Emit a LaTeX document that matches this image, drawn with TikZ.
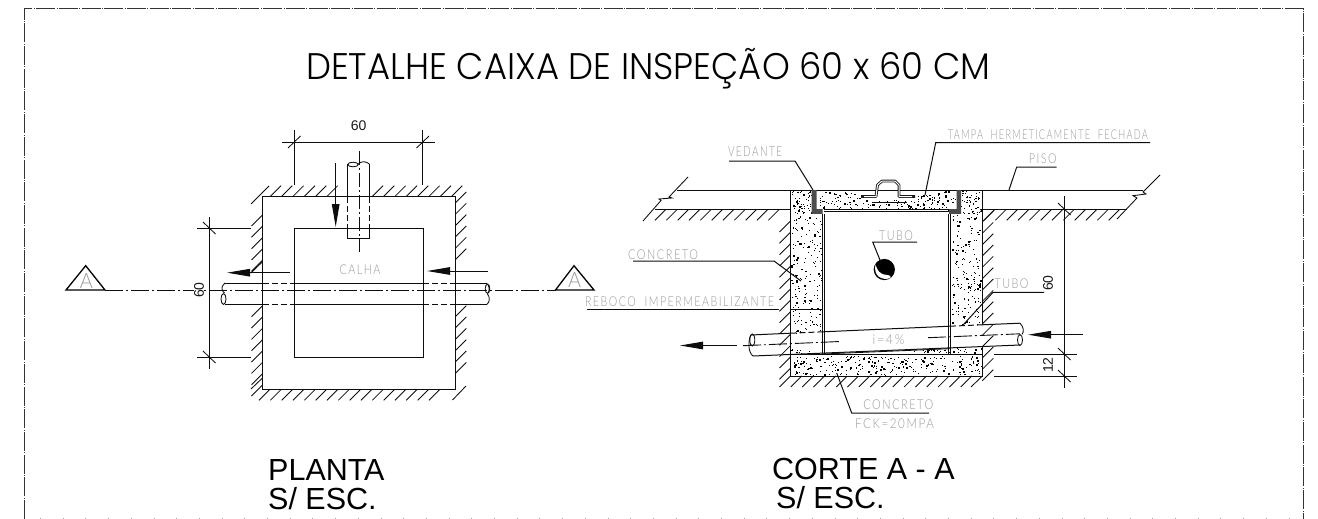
\documentclass[tikz,border=0pt]{standalone}
\usepackage{fontspec}
\usepackage{graphicx}
\usetikzlibrary{arrows.meta}
\setmainfont{Liberation Sans}
\newfontfamily\titlefont{Poppins Light}
\newfontfamily\lightfont[LetterSpace=14]{Lato Light}
\definecolor{lblgray}{gray}{0.6}
\tikzset{
  ln/.style={line width=1pt,black!95},
  thin ln/.style={line width=0.85pt,black!95},
  dsh/.style={ln,dash pattern=on 6pt off 3pt},
  center ln/.style={line width=0.9pt,black!95,dash pattern=on 18pt off 3pt on 2pt off 3pt},
  border ln/.style={line width=1pt,black!80,dash pattern=on 19pt off 1.5pt on 0.7pt off 1.5pt},
  arrowln/.style={ln,-{Triangle[length=23pt,width=7.5pt]}},
  dimtxt/.style={font=\fontsize{14}{14}\selectfont,black!90,inner sep=0pt},
  bigtxt/.style={font=\fontsize{30.5}{30.5}\selectfont,black,inner sep=0pt,anchor=base west},
  lbl/.style={inner sep=0pt,text=lblgray},
  secmark/.style={line width=1.3pt,black,line join=miter}
}
\newcommand{\hatchrow}[7]{\foreach \k in {1,...,#5}{\draw[thin ln] ({#1+(\k-1)*#3},{#2+(\k-1)*#4}) -- ++(#6,#7);}}
\newcommand{\concdots}[5]{\foreach \k in {1,...,#5}{\pgfmathsetmacro\dxx{#1+rnd*(#3-#1)}\pgfmathsetmacro\dyy{#2+rnd*(#4-#2)}\pgfmathsetmacro\dss{0.7+rnd*rnd*1.7}\fill[black] (\dxx,\dyy) rectangle ++(\dss,\dss);}}
\newcommand{\lb}[5]{\node[lbl] (#1) at (#2,#3) {\resizebox{#4pt}{9.7pt}{\lightfont #5}};}
\begin{document}
\begin{tikzpicture}[x=1pt,y=-1pt]
\useasboundingbox (0,0) rectangle (1318,519);
\clip (0,0) rectangle (1318,519);
\pgfmathsetseed{4242}
% border
\draw[border ln] (24,519) -- (24,9) -- (1303,9) -- (1303,519);
\draw[line width=1pt,black!35,dash pattern=on 0.8pt off 21.9pt] (40,518.4) -- (1303,518.4);
% title
\node[inner sep=0pt,anchor=base west] (title) at (306,79) {\resizebox{684pt}{\height}{\fontsize{37}{37}\selectfont\titlefont DETALHE CAIXA DE INSPEÇÃO 60 x 60 CM}};
\node[bigtxt] (t1) at (268,480) {PLANTA};
\node[bigtxt] (t2) at (268,509) {S/ ESC.};
\node[bigtxt] (t3) at (772,479) {CORTE A - A};
\node[bigtxt] (t4) at (776,508) {S/ ESC.};
%%% PLAN
\draw[ln] (262.5,196.7) rectangle (455.3,389.3);
\draw[ln] (294.5,228) rectangle (423.2,357.3);
% hatch
\hatchrow{270}{196.7}{11.33}{0}{6}{11}{-11}
\hatchrow{372}{196.7}{11.33}{0}{8}{11}{-11}
\draw[thin ln] (251,204) -- (269,186);
\hatchrow{262.5}{215}{0}{11.33}{5}{-11}{11}
\draw[thin ln] (262.5,261.7) -- (251,273);
\hatchrow{262.5}{305.7}{0}{11.33}{8}{-11}{11}
\hatchrow{455.3}{203}{0}{11.33}{6}{11}{-11}
\hatchrow{455.3}{316.7}{0}{11.33}{6}{11}{-11}
\draw[thin ln] (452.5,400) -- (466,386);
\hatchrow{270}{389.3}{11.33}{0}{16}{-11}{11}
\draw[thin ln] (262.5,378) -- (251,389);
% horizontal pipe
\draw[ln] (225,283) -- (262.5,283);
\draw[ln] (225,304.3) -- (262.5,304.3);
\draw[dsh] (262.5,283) -- (294.5,283);
\draw[dsh] (262.5,304.3) -- (294.5,304.3);
\draw[ln] (294.5,283) -- (423.2,283);
\draw[ln] (294.5,304.3) -- (423.2,304.3);
\draw[dsh] (423.2,283) -- (455.3,283);
\draw[dsh] (423.2,304.3) -- (455.3,304.3);
\draw[ln] (455.3,283) -- (486,283);
\draw[ln] (455.3,304.3) -- (487,304.3);
\draw[thin ln] (225,283) .. controls (220,287) and (222,291) .. (224.5,293);
\draw[thin ln] (223.5,299) ellipse (2.5 and 5.4);
\draw[thin ln] (486,283) .. controls (490,285) and (490,291) .. (487.5,294);
\draw[thin ln] (487.5,288.7) ellipse (2.3 and 4.6);
\draw[thin ln] (487.5,294) .. controls (490,297) and (490,302) .. (487,304.3);
% vertical pipe
\draw[ln] (347.7,164) -- (347.7,196.7);
\draw[ln] (369.3,164) -- (369.3,196.7);
\draw[dsh] (347.7,196.7) -- (347.7,228);
\draw[dsh] (369.3,196.7) -- (369.3,228);
\draw[ln] (347.7,228) -- (347.7,238) -- (369.3,238) -- (369.3,228);
\draw[thin ln] (353,164.5) ellipse (5.3 and 2.3);
\draw[thin ln] (358.3,164) .. controls (361,161) and (366,161) .. (369.3,164);
\draw[line width=0.9pt,black!95,dash pattern=on 14pt off 3pt on 2pt off 3pt] (359,151) -- (359,252);
% centre line and section marks
\draw[secmark] (85.7,265.7) -- (66,290) -- (105,290) -- cycle;
\draw[secmark] (574,265.7) -- (555.5,290) -- (594,290) -- cycle;
\node[inner sep=0pt,text=lblgray] (a1) at (86.3,281) {\resizebox{13pt}{15pt}{\lightfont A}};
\node[inner sep=0pt,text=lblgray] (a2) at (574.5,279.5) {\resizebox{13pt}{15pt}{\lightfont A}};
\draw[center ln] (105,290) -- (555.5,290);
\node[dimtxt,rotate=90,fill=white] (d60l) at (199,290) {60};
% arrows
\draw[arrowln] (290,272.7) -- (227,272.7);
\draw[arrowln] (488,271) -- (427,271);
\draw[arrowln] (335.7,163) -- (335.7,227);
% dims
\draw[ln] (282,142) -- (435,142);
\draw[ln] (294.3,130) -- (294.3,185);
\draw[ln] (422.7,130) -- (422.7,185);
\draw[thin ln] (288,148) -- (300.5,136);
\draw[thin ln] (416.5,148) -- (429,136);
\node[dimtxt] (d60t) at (358.7,126) {60};
\draw[ln] (209.3,217) -- (209.3,369);
\draw[ln] (197,228) -- (250.5,228);
\draw[ln] (197,357) -- (250.5,357);
\draw[thin ln] (203,222) -- (215.5,234);
\draw[thin ln] (203,351) -- (215.5,363);
\node[lbl] (calha) at (360,270) {\resizebox{41pt}{9.7pt}{\lightfont CALHA}};
%%% SECTION: concrete
\concdots{791}{191}{811}{214}{55}
\concdots{791}{214}{821}{309}{135}
\concdots{791}{310}{821}{333}{35}
\concdots{791}{349}{821}{353}{8}
\concdots{961}{191}{981}{214}{55}
\concdots{952}{214}{981}{325}{155}
\concdots{952}{347}{981}{353}{12}
\concdots{818}{191}{860}{209}{55}
\concdots{917}{191}{955}{209}{55}
\concdots{860}{200}{917}{209}{40}
\concdots{912}{349.5}{949}{352.5}{20}
\concdots{791}{356}{981}{375}{250}
% ground and top
\draw[ln] (677,190) -- (1143,190);
\draw[ln] (655,209.3) -- (790.5,209.3);
\draw[ln] (982.3,209.3) -- (1127,209.3);
\draw[thin ln] (688,177) -- (669,197) -- (672,198) -- (659,199) -- (661,200.5) -- (643,221);
\draw[thin ln] (1160,175) -- (1143,192) -- (1146,194) -- (1133,195.7) -- (1137,198) -- (1117,219);
\hatchrow{666}{209.3}{11.33}{0}{11}{-11}{11}
\hatchrow{995}{209.3}{11.33}{0}{12}{-11}{11}
\hatchrow{790.5}{221}{0}{11.33}{14}{-11}{11}
\hatchrow{790.5}{376}{11.33}{0}{17}{-11}{11}
\hatchrow{982.3}{222}{0}{11.33}{15}{11}{-11}
\draw[thin ln] (982.3,376) -- (971,387);
% walls
\draw[ln] (790.5,190) -- (790.5,376) -- (982.3,376) -- (982.3,345.5);
\draw[ln] (982.3,190) -- (982.3,325);
\draw[ln] (790.5,354.3) -- (982.3,354.3);
\draw[ln] (790.5,309.5) -- (822,309.5);
\draw[ln] (822,214) -- (822,354.3);
\draw[ln] (824.5,214) -- (824.5,354.3);
\draw[ln] (948.3,214) -- (948.3,354.3);
\draw[ln] (950.7,214) -- (950.7,354.3);
% lid
\draw[ln] (824,209.7) -- (949,209.7);
\draw[ln] (824,211.7) -- (949,211.7);
\fill[black!70] (811.7,190) -- (816.7,190) -- (816.7,209) -- (822.7,209) -- (822.7,213.8) -- (811.7,213.8) -- cycle;
\fill[black!70] (961,190) -- (956.7,190) -- (956.7,209) -- (949,209) -- (949,213.8) -- (961,213.8) -- cycle;
% handle
\draw[line width=2.8pt,black!90,line join=round] (861,196.5) -- (876,196.5) -- (877.5,185) -- (882,181) -- (895,181) -- (899,185) -- (899,196.5) -- (915,196.5);
\draw[line width=1pt,white,line join=round] (864,196.5) -- (876,196.5) -- (877.5,185) -- (882,181) -- (895,181) -- (899,185) -- (899,196.5) -- (912,196.5);
\draw[ln] (872,202.3) -- (907,202.3);
% tube
\draw[ln] (750.7,335) -- (790.5,333.2);
\draw[dsh] (790.5,333.2) -- (823,331.8);
\draw[ln] (823,331.8) -- (950,326.2);
\draw[dsh] (950,326.2) -- (982.3,324.8);
\draw[ln] (982.3,324.8) -- (1020,323.2);
\draw[ln] (753,356) -- (1020,345);
\draw[thin ln] (823,354) -- (950,348.7);
\draw[thin ln] (750.7,335) .. controls (748,342) and (748,352) .. (753,356);
\draw[thin ln] (752.3,340) ellipse (2.5 and 6);
\draw[thin ln] (1020,323.2) .. controls (1024,327) and (1024,332) .. (1022,334.5);
\draw[thin ln] (1020,340) ellipse (2.5 and 5.5);
\draw[center ln] (743,345.7) -- (840,341.5);
\draw[center ln] (928,337.7) -- (1020,333.8);
\draw[arrowln] (737,345.5) -- (680,345.5);
\draw[arrowln] (1083,334.7) -- (1028,334.7);
% ball
\draw[line width=1.2pt,black,fill=black] (884.3,269.5) circle (10);
\fill[white] (875.5,264.5) .. controls (877,270) and (880,275) .. (887,275) .. controls (890,275) and (892,277.5) .. (890.5,278) .. controls (882,281) and (873,276) .. cycle;
% dims right
\draw[ln] (1064.3,196) -- (1064.3,388);
\draw[thin ln] (1058,203) -- (1070.5,215);
\draw[thin ln] (1058,348) -- (1070.5,360);
\draw[thin ln] (1058,370) -- (1070.5,382);
\draw[ln] (994,354.3) -- (1077,354.3);
\draw[ln] (994,376) -- (1077,376);
\node[dimtxt,rotate=90] (d60r) at (1048,283) {60};
\node[dimtxt,rotate=90] (d12) at (1048,365) {12};
% labels and leaders
\lb{vedante}{755}{152}{54}{VEDANTE}
\draw[ln] (729,161) -- (795,161) -- (813,190);
\lb{tampa}{1048}{134.7}{200}{TAMPA\ \ HERMETICAMENTE\ \ FECHADA}
\draw[ln] (1150,142.7) -- (935.7,142.7) -- (925,195);
\lb{piso}{1042.8}{158.7}{28}{PISO}
\draw[ln] (1056.7,167) -- (1016.7,167) -- (1009,190);
\lb{conc1}{663}{254.7}{70}{CONCRETO}
\draw[ln] (633,261) -- (774,261) -- (801,281);
\lb{reboco}{679.5}{301.7}{189}{REBOCO\ \ IMPERMEABILIZANTE}
\draw[ln] (587,309.5) -- (779,309.5);
\lb{tubo1}{896}{235.7}{34}{TUBO}
\draw[ln] (917,242) -- (872.7,242) -- (882,265);
\lb{tubo2}{1011.5}{283.7}{34}{TUBO}
\draw[ln] (1044,292.3) -- (993,292.3) -- (963,325);
\lb{incl}{888.5}{340}{32}{i=4\%}
\lb{conc2}{898.3}{405}{70}{CONCRETO}
\draw[ln] (929,413) -- (851.7,413) -- (836.7,373);
\lb{fck}{894.5}{423.3}{79}{FCK=20MPA}
\end{tikzpicture}
\end{document}
